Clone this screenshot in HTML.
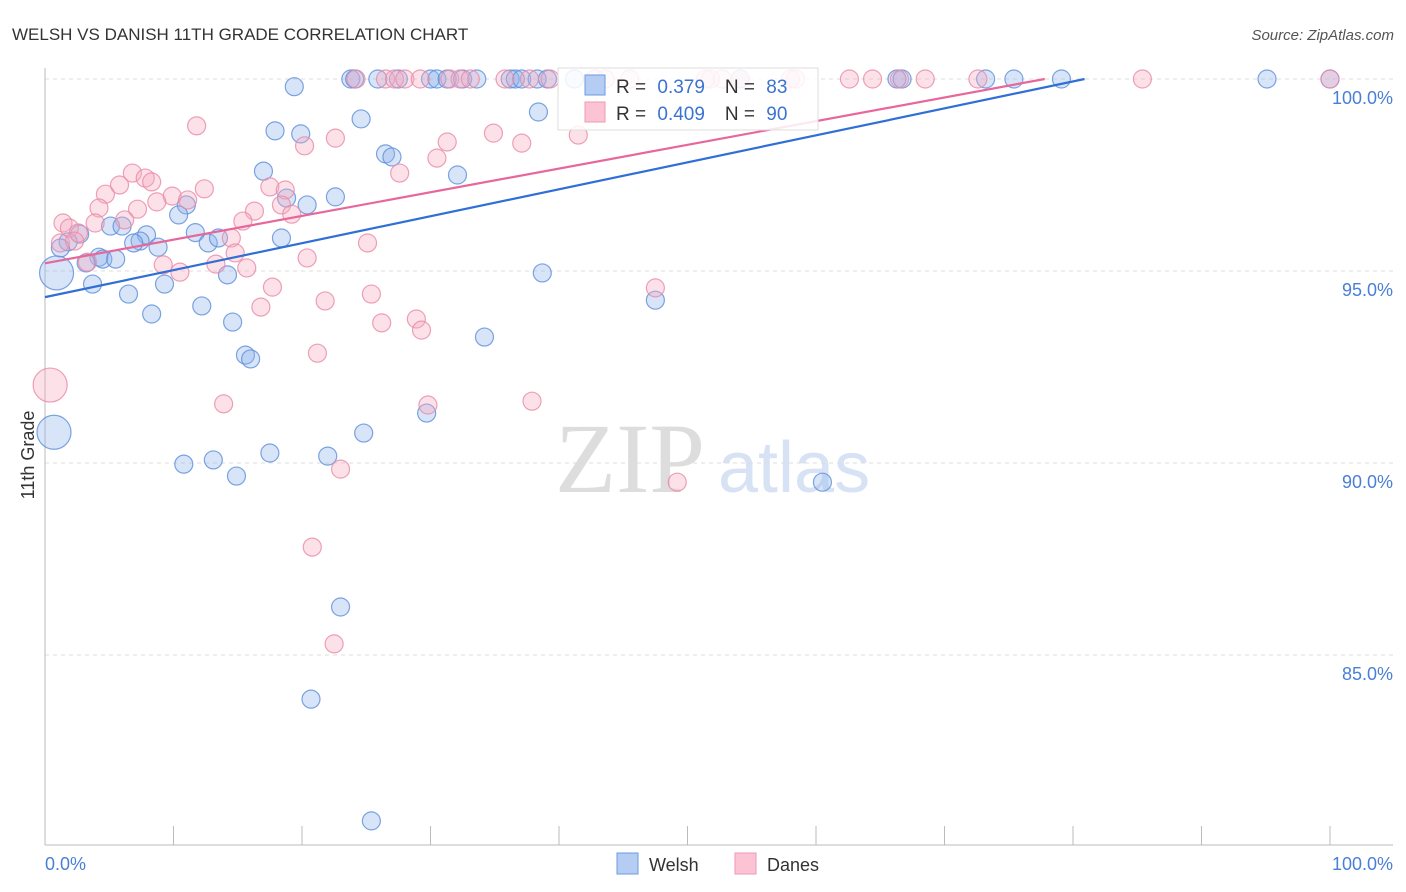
<!DOCTYPE html>
<html><head><meta charset="utf-8"><style>
body{margin:0;background:#fff;font-family:"Liberation Sans",sans-serif}
#c{position:relative;width:1406px;height:892px;overflow:hidden}
</style></head><body>
<div id="c">
<svg id="s" width="1406" height="892" xmlns="http://www.w3.org/2000/svg" style="position:absolute;left:0;top:0">
<text x="12" y="40" font-size="17" fill="#333">WELSH VS DANISH 11TH GRADE CORRELATION CHART</text>
<text x="1394" y="40" font-size="15" fill="#555" font-style="italic" text-anchor="end">Source: ZipAtlas.com</text>
<text x="555" y="492" font-size="100" fill="#ddd" font-family="Liberation Serif">ZIP</text>
<text x="718" y="492" font-size="72" fill="#d7e3f5">atlas</text>
<text transform="translate(34,455) rotate(-90)" font-size="18" fill="#333" text-anchor="middle">11th Grade</text>
<g id="grid"></g><g id="pts"></g><g id="lines"></g>
<g>
<rect x="558" y="68" width="260" height="62" fill="#fff" fill-opacity="0.85" stroke="#ddd"/>
<rect x="585" y="75" width="20" height="20" fill="#b5cdf2" stroke="#6b9be0"/>
<rect x="585" y="102" width="20" height="20" fill="#fbc3d3" stroke="#ef9ab4"/>
<text x="616" y="93" font-size="19" fill="#333">R = <tspan fill="#3b73d1" dx="6">0.379</tspan><tspan dx="20" fill="#333">N = </tspan><tspan fill="#3b73d1" dx="6">83</tspan></text>
<text x="616" y="120" font-size="19" fill="#333">R = <tspan fill="#3b73d1" dx="6">0.409</tspan><tspan dx="20" fill="#333">N = </tspan><tspan fill="#3b73d1" dx="6">90</tspan></text>
</g>
<g>
<rect x="617" y="853" width="21" height="21" fill="#b5cdf2" stroke="#6b9be0"/>
<text x="649" y="871" font-size="18" fill="#333">Welsh</text>
<rect x="735" y="853" width="21" height="21" fill="#fbc3d3" stroke="#ef9ab4"/>
<text x="767" y="871" font-size="18" fill="#333">Danes</text>
</g>
</svg>
</div>
<script>
const yTicks=[100,95,90,85];
const yTickLabels=["100.0%","95.0%","90.0%","85.0%"];
const welshX=[19.4,23.8,24.1,25.9,27.5,30.0,30.5,31.3,32.5,33.6,36.2,36.6,37.1,38.3,39.1,41.2,54.1,66.3,66.7,73.2,75.4,79.1,95.1,100,
24.6,38.4,17.9,19.9,26.5,27.0,17.0,32.1,22.6,18.8,20.4,11.0,10.4,11.7,7.9,5.1,6.0,2.7,1.8,1.2,7.4,6.9,8.8,12.7,13.5,4.2,4.5,5.5,3.2,0.9,3.7,6.5,9.3,14.2,18.4,8.3,12.2,14.6,38.7,47.5,34.2,15.6,16.0,29.7,24.8,0.7,10.8,13.1,14.9,17.5,22.0,60.5,23.0,20.7,25.4];
const welshY=[99.8,100,100,100,100,100,100,100,100,100,100,100,100,100,100,100,100,100,100,100,100,100,100,100,
98.96,99.14,98.65,98.57,98.05,97.97,97.6,97.5,96.93,96.9,96.72,96.72,96.46,96.0,95.94,96.17,96.17,95.96,95.76,95.6,95.78,95.73,95.62,95.73,95.86,95.36,95.31,95.31,95.21,94.95,94.66,94.4,94.66,94.9,95.86,93.88,94.09,93.67,94.95,94.24,93.28,92.81,92.71,91.3,90.78,90.8,89.97,90.08,89.66,90.26,90.18,89.5,86.25,83.85,80.68];
const welshBig=[53,69];
const danesX=[24.2,26.5,27.2,28.0,29.2,31.5,32.3,33.1,35.8,37.7,39.3,42.8,43.6,45.5,51.4,51.8,52.7,54.1,58.0,58.4,62.6,64.4,66.5,68.5,72.6,85.4,100,
11.8,20.2,22.6,31.3,34.9,37.1,41.5,30.5,27.6,6.8,7.8,8.3,4.7,5.8,9.9,12.4,11.1,17.5,18.7,4.2,7.2,6.2,8.7,1.4,1.9,3.9,2.6,1.2,2.3,16.3,15.4,18.4,19.2,14.5,14.8,13.3,15.7,20.4,9.2,10.5,3.3,25.1,17.7,16.8,21.8,25.4,26.2,28.9,29.3,21.2,47.5,0.4,13.9,29.8,37.9,23.0,49.2,20.8,22.5];
const danesY=[100,100,100,100,100,100,100,100,100,100,100,100,100,100,100,100,100,100,100,100,100,100,100,100,100,100,100,
98.78,98.26,98.46,98.36,98.59,98.33,98.54,97.94,97.55,97.55,97.42,97.32,97.0,97.24,96.95,97.14,96.85,97.19,97.11,96.64,96.61,96.33,96.8,96.25,96.12,96.25,95.99,95.73,95.78,96.56,96.3,96.72,96.48,95.86,95.47,95.18,95.08,95.34,95.16,94.97,95.23,95.73,94.58,94.06,94.22,94.4,93.65,93.75,93.46,92.86,94.56,92.03,91.54,91.51,91.61,89.84,89.5,87.81,85.29];
const danesBig=[78];
const welshTrend=[[0,94.32],[80.9,100]];
const danesTrend=[[0,95.2],[77.8,100]];
const NS="http://www.w3.org/2000/svg";
const X=v=>45+v*12.85, Y=v=>79+(100-v)*38.4;
function mk(t,a,p){const e=document.createElementNS(NS,t);for(const k in a)e.setAttribute(k,a[k]);p.appendChild(e);return e;}
const grid=document.getElementById('grid');
yTicks.forEach((t,i)=>{
 const l=mk('line',{x1:45,x2:1393,y1:Y(t),y2:Y(t),stroke:'#ddd','stroke-dasharray':'4,4'},grid);
 
 
 const tx=mk('text',{x:1393,y:Y(t)+25,'font-size':18,fill:'#4a7fd6','text-anchor':'end'},grid);
 tx.textContent=yTickLabels[i];
 
 
});
const ax=mk('line',{x1:45,x2:45,y1:68,y2:845,stroke:'#bbb'},grid);


const bx=mk('line',{x1:45,x2:1393,y1:845,y2:845,stroke:'#bbb'},grid);


for(let i=0;i<=10;i++){const tk=mk('line',{x1:X(i*10),x2:X(i*10),y1:826,y2:845,stroke:'#bbb'},grid);
 
 }
const l0=mk('text',{x:45,y:870,'font-size':18,fill:'#4a7fd6'},grid);l0.textContent='0.0%';


const l1=mk('text',{x:1393,y:870,'font-size':18,fill:'#4a7fd6','text-anchor':'end'},grid);l1.textContent='100.0%';


const pts=document.getElementById('pts');
function series(xs,ys,big,fill,stroke,name){xs.forEach((x,i)=>{
 const c=mk('circle',{cx:X(x),cy:Y(ys[i]),r:big.includes(i)?17:9,fill:fill,'fill-opacity':0.35,stroke:stroke,'stroke-opacity':0.8,'stroke-width':1.2},pts);
 
 });}
series(welshX,welshY,welshBig,'#8fb3ea','#5b8fd9','welsh-point');
series(danesX,danesY,danesBig,'#f6a8c0','#e98aa8','danes-point');
const lg=document.getElementById('lines');
const t1=mk('line',{x1:X(welshTrend[0][0]),y1:Y(welshTrend[0][1]),x2:X(welshTrend[1][0]),y2:Y(welshTrend[1][1]),stroke:'#2f6fd6','stroke-width':2.2},lg);


const t2=mk('line',{x1:X(danesTrend[0][0]),y1:Y(danesTrend[0][1]),x2:X(danesTrend[1][0]),y2:Y(danesTrend[1][1]),stroke:'#e8679a','stroke-width':2.2},lg);


</script>
</body></html>
